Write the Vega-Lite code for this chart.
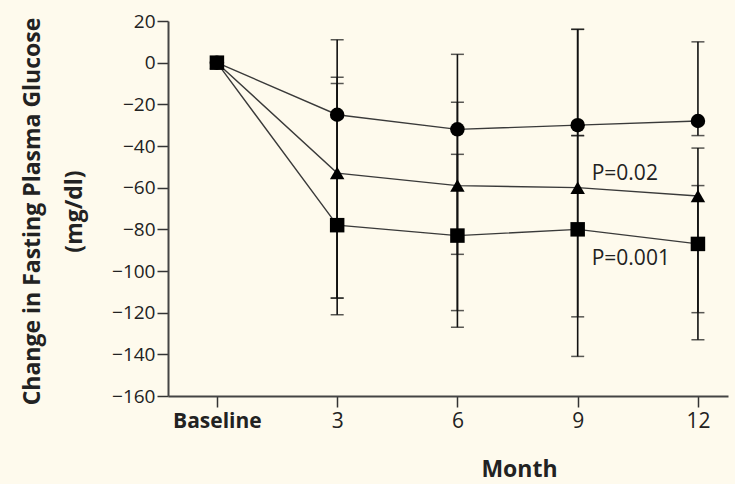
{
  "$schema": "https://vega.github.io/schema/vega-lite/v6.json",
  "autosize": {"type": "none"},
  "width": 560,
  "height": 375,
  "padding": {"left": 168, "top": 21, "right": 7, "bottom": 88},
  "background": "#fefaed",
  "config": {
    "view": {"stroke": null},
    "font": "Open Sans"
  },
  "datasets": {
    "means": [
      {"month": 0, "group": "A", "value": 0},
      {"month": 3, "group": "A", "value": -25},
      {"month": 6, "group": "A", "value": -32},
      {"month": 9, "group": "A", "value": -30},
      {"month": 12, "group": "A", "value": -28},
      {"month": 0, "group": "B", "value": 0},
      {"month": 3, "group": "B", "value": -53},
      {"month": 6, "group": "B", "value": -59},
      {"month": 9, "group": "B", "value": -60},
      {"month": 12, "group": "B", "value": -64},
      {"month": 0, "group": "C", "value": 0},
      {"month": 3, "group": "C", "value": -78},
      {"month": 6, "group": "C", "value": -83},
      {"month": 9, "group": "C", "value": -80},
      {"month": 12, "group": "C", "value": -87}
    ],
    "bars": [
      {"month": 3, "group": "A", "lo": -113, "hi": -7},
      {"month": 6, "group": "A", "lo": -92, "hi": -19},
      {"month": 9, "group": "A", "lo": -35, "hi": 16},
      {"month": 12, "group": "A", "lo": -35, "hi": 10},
      {"month": 3, "group": "B", "lo": -121, "hi": 11},
      {"month": 6, "group": "B", "lo": -127, "hi": 4},
      {"month": 9, "group": "B", "lo": -141, "hi": 16},
      {"month": 12, "group": "B", "lo": -133, "hi": -59},
      {"month": 3, "group": "C", "lo": -113, "hi": -10},
      {"month": 6, "group": "C", "lo": -119, "hi": -44},
      {"month": 9, "group": "C", "lo": -122, "hi": -35},
      {"month": 12, "group": "C", "lo": -120, "hi": -41}
    ],
    "notes": [
      {"month": 9.35, "value": -53.5, "label": "P=0.02"},
      {"month": 9.35, "value": -94, "label": "P=0.001"}
    ]
  },
  "encoding": {
    "x": {
      "field": "month",
      "type": "quantitative",
      "scale": {"domain": [-1.22, 12.75], "nice": false, "zero": false},
      "axis": {
        "values": [0, 3, 6, 9, 12],
        "labelExpr": "datum.value == 0 ? 'Baseline' : datum.label",
        "labelFontWeight": {"condition": {"test": "datum.value == 0", "value": "bold"}, "value": "normal"},
        "labelFontSize": 21,
        "labelColor": "#222",
        "labelPadding": 3,
        "tickSize": 11,
        "tickWidth": 1.5,
        "tickColor": "#333",
        "domainColor": "#444",
        "domainWidth": 2,
        "grid": false,
        "title": "Month",
        "titleFontSize": 23,
        "titleFontWeight": "bold",
        "titleColor": "#222",
        "titleX": 351,
        "titleY": 80,
        "titleBaseline": "alphabetic"
      }
    },
    "y": {
      "field": "value",
      "type": "quantitative",
      "scale": {"domain": [-160, 20], "nice": false, "zero": false},
      "axis": {
        "values": [-160, -140, -120, -100, -80, -60, -40, -20, 0, 20],
        "labelFontSize": 19,
        "labelColor": "#222",
        "labelPadding": 2,
        "tickSize": 11,
        "tickWidth": 1.5,
        "tickColor": "#333",
        "domainColor": "#444",
        "domainWidth": 2,
        "grid": false,
        "title": ["Change in Fasting Plasma Glucose", "(mg/dl)"],
        "titleFontSize": 23,
        "titleFontWeight": "bold",
        "titleColor": "#222",
        "titleLineHeight": 42,
        "titleAngle": -90,
        "titleX": -136,
        "titleY": 190,
        "titleBaseline": "middle",
        "titleAlign": "center"
      }
    }
  },
  "layer": [
    {
      "data": {"name": "bars"},
      "mark": {"type": "rule", "color": "#111", "strokeWidth": 1.6},
      "encoding": {
        "y": {"field": "lo", "type": "quantitative"},
        "y2": {"field": "hi"}
      }
    },
    {
      "data": {"name": "bars"},
      "mark": {"type": "tick", "orient": "horizontal", "color": "#111", "size": 13, "thickness": 1.5},
      "encoding": {
        "y": {"field": "lo", "type": "quantitative"}
      }
    },
    {
      "data": {"name": "bars"},
      "mark": {"type": "tick", "orient": "horizontal", "color": "#111", "size": 13, "thickness": 1.5},
      "encoding": {
        "y": {"field": "hi", "type": "quantitative"}
      }
    },
    {
      "data": {"name": "means"},
      "mark": {"type": "line", "color": "#3a3a3a", "strokeWidth": 1.4},
      "encoding": {
        "detail": {"field": "group"}
      }
    },
    {
      "data": {"name": "means"},
      "mark": {"type": "point", "filled": true, "opacity": 1, "color": "#000", "size": 210},
      "encoding": {
        "shape": {
          "field": "group",
          "type": "nominal",
          "scale": {"domain": ["A", "B", "C"], "range": ["circle", "triangle-up", "square"]},
          "legend": null
        }
      }
    },
    {
      "data": {"name": "notes"},
      "mark": {"type": "text", "align": "left", "baseline": "middle", "fontSize": 21, "color": "#222"},
      "encoding": {
        "text": {"field": "label"}
      }
    }
  ]
}
